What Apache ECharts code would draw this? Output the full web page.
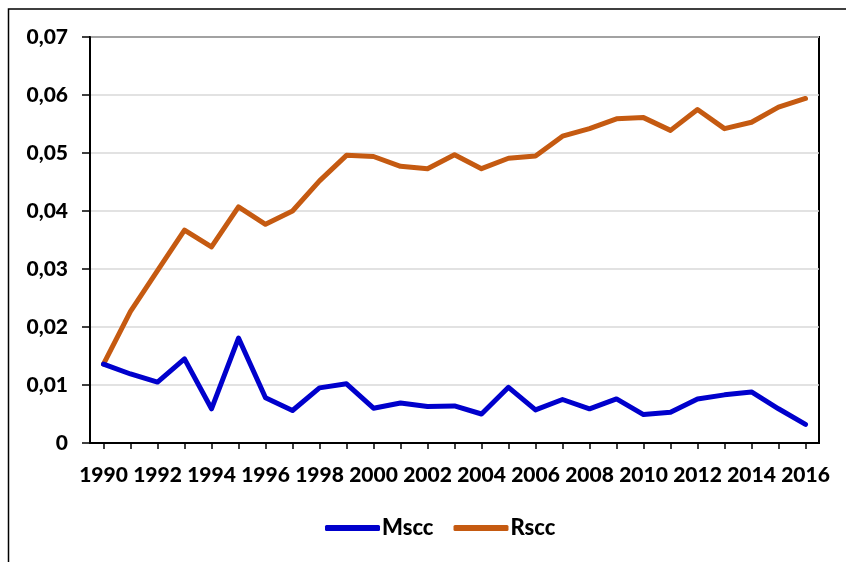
<!DOCTYPE html>
<html>
<head>
<meta charset="utf-8">
<script src="https://cdn.jsdelivr.net/npm/echarts@6/dist/echarts.min.js"></script>
<style>
html,body{margin:0;padding:0;background:#fff;}
#chart{width:846px;height:562px;}
</style>
</head>
<body>
<div id="chart"></div>
<script>
const years = ['1990','1991','1992','1993','1994','1995','1996','1997','1998','1999','2000','2001','2002','2003','2004','2005','2006','2007','2008','2009','2010','2011','2012','2013','2014','2015','2016'];
const mscc = [0.0136,0.0119,0.0105,0.0145,0.0059,0.0181,0.0078,0.0056,0.0095,0.0102,0.0060,0.0069,0.0063,0.0064,0.0050,0.0096,0.0057,0.0075,0.0059,0.0076,0.0049,0.0053,0.0076,0.0083,0.0088,0.0059,0.0032];
const rscc = [0.0136,0.0227,0.0297,0.0367,0.0338,0.0407,0.0377,0.0400,0.0452,0.0496,0.0494,0.0477,0.0473,0.0497,0.0473,0.0491,0.0495,0.0529,0.0542,0.0559,0.0561,0.0539,0.0575,0.0542,0.0553,0.0579,0.0594];
const seriesNames = ['Mscc','Rscc'];

const FONT = 'Lato';
const WEIGHT = 900;
const chart = echarts.init(document.getElementById('chart'), null, {renderer:'canvas'});
chart.setOption({
  animation:false,
  backgroundColor:'#fff',
  graphic:[{type:'rect', shape:{x:8.5,y:9,width:900,height:600}, style:{fill:'none', stroke:'#000', lineWidth:1.5}, silent:true}],
  grid:{left:90, top:37, right:27, bottom:119, show:true, borderColor:'#000', borderWidth:2, backgroundColor:'transparent'},
  legend:{
    data:seriesNames, bottom:18, left:320,
    itemWidth:55, itemHeight:6, itemGap:20, icon:'roundRect',
    textStyle:{fontFamily:FONT, fontWeight:WEIGHT, fontSize:22, color:'#000', padding:[0,0,0,-3]}
  },
  xAxis:{
    type:'category', data:years, boundaryGap:true,
    axisLine:{lineStyle:{color:'#000', width:2}},
    axisTick:{show:true, alignWithLabel:true, interval:0, length:6, lineStyle:{color:'#000', width:1.5}},
    axisLabel:{interval:1, margin:22, fontFamily:FONT, fontWeight:WEIGHT, fontSize:21, color:'#000'},
    splitLine:{show:false}
  },
  yAxis:{
    type:'value', min:0, max:0.07, interval:0.01,
    axisLine:{show:true, lineStyle:{color:'#000', width:2}},
    axisTick:{show:true, length:8, lineStyle:{color:'#000', width:1.5}},
    axisLabel:{margin:22, fontFamily:FONT, fontWeight:WEIGHT, fontSize:21, color:'#000',
      formatter:v=> v===0 ? '0' : v.toFixed(2).replace('.', ',')},
    splitLine:{show:true, lineStyle:{color:'#d9d9d9', width:1.5}}
  },
  series:[
    {name:seriesNames[0], type:'line', data:mscc, symbol:'none', color:'#0000CC', lineStyle:{width:5, color:'#0000CC', cap:'round', join:'round'}, z:3},
    {name:seriesNames[1], type:'line', data:rscc, symbol:'none', color:'#C55A11', lineStyle:{width:5, color:'#C55A11', cap:'round', join:'round'}, z:2}
  ]
});
</script>
</body>
</html>
